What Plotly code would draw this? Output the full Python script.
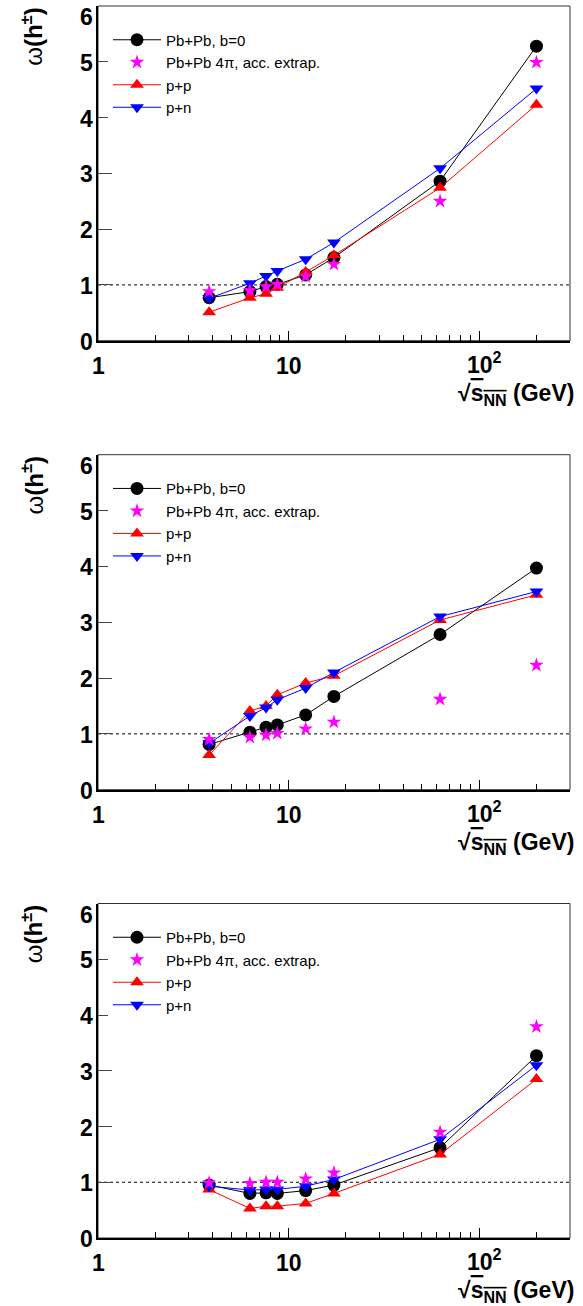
import math
import plotly.graph_objects as go

# ---------------- data ----------------
energies = [3.83, 6.27, 7.62, 8.73, 12.3, 17.3, 62.4, 200.0]

# panel 1
p1_pbpb = [0.77, 0.88, 0.97, 1.01, 1.18, 1.49, 2.86, 5.28]
p1_star = [0.88, 0.90, 0.97, 1.01, 1.15, 1.37, 2.50, 4.99]
p1_pp = [0.51, 0.77, 0.84, 0.95, 1.23, 1.53, 2.74, 4.23]
p1_pn = [0.76, 1.03, 1.16, 1.25, 1.46, 1.76, 3.09, 4.52]

# panel 2
p2_pbpb = [0.81, 1.03, 1.12, 1.16, 1.34, 1.67, 2.78, 3.97]
p2_star = [0.90, 0.94, 0.98, 1.01, 1.09, 1.21, 1.62, 2.23]
p2_pp = [0.62, 1.41, 1.50, 1.70, 1.91, 2.04, 3.04, 3.49]
p2_pn = [0.83, 1.32, 1.47, 1.61, 1.82, 2.10, 3.10, 3.55]

# panel 3
p3_pbpb = [0.95, 0.80, 0.81, 0.80, 0.85, 0.95, 1.62, 3.27]
p3_star = [0.99, 0.98, 1.00, 1.00, 1.06, 1.17, 1.90, 3.79]
p3_pp = [0.87, 0.53, 0.57, 0.57, 0.62, 0.80, 1.50, 2.85]
p3_pn = [0.93, 0.86, 0.87, 0.87, 0.93, 1.05, 1.77, 3.10]

panels = [
    (p1_pbpb, p1_star, p1_pp, p1_pn),
    (p2_pbpb, p2_star, p2_pp, p2_pn),
    (p3_pbpb, p3_star, p3_pp, p3_pn),
]

series_names = ["Pb+Pb, b=0", "Pb+Pb 4\u03c0, acc. extrap.", "p+p", "p+n"]
y_ticks = [0, 1, 2, 3, 4, 5, 6]
y_tick_text = ["0", "1", "2", "3", "4", "5", "6"]
x_major = [1, 10, 100]
x_major_text = ["1", "10", "10<sup>2</sup>"]
x_minor = [2, 3, 4, 5, 6, 7, 8, 9, 20, 30, 40, 50, 60, 70, 80, 90, 200, 300]
poisson_ref = 1.0
x_lo, x_hi = 1, 300
y_lo, y_hi = 0, 6

# ---------------- figure ----------------
W, H = 583, 1306
ML, MR, MT, MB = 98, 13, 6, 68
plot_w = W - ML - MR
plot_h = H - MT - MB
panel_px = [(6.0, 340.7), (454.7, 789.7), (903.5, 1238.0)]  # top, bottom pixel


def ydom(top, bot):
    return [max(0.0, (H - MB - bot) / plot_h), min(1.0, (H - MB - top) / plot_h)]


FONT = "Liberation Sans"
fig = go.Figure()
layout = dict(
    template="none",
    width=W, height=H,
    margin=dict(l=ML, r=MR, t=MT, b=MB, autoexpand=False),
    paper_bgcolor="white", plot_bgcolor="white",
    font=dict(family=FONT, color="black"),
    showlegend=True, hovermode=False,
    shapes=[], annotations=[],
)

for i, (pbpb, star, pp, pn) in enumerate(panels):
    k = "" if i == 0 else str(i + 1)
    xa, ya = "x" + k, "y" + k
    leg = "legend" + k
    common = dict(x=energies, xaxis=xa, yaxis=ya, legend=leg)
    fig.add_trace(go.Scatter(y=pbpb, name=series_names[0], mode="lines+markers",
                             line=dict(color="black", width=1),
                             marker=dict(symbol="circle", size=13, color="black"),
                             legendrank=1, **common))
    fig.add_trace(go.Scatter(y=pp, name=series_names[2], mode="lines+markers",
                             line=dict(color="#ff0000", width=1),
                             marker=dict(symbol="triangle-up", size=12, color="#ff0000"),
                             legendrank=3, **common))
    fig.add_trace(go.Scatter(y=pn, name=series_names[3], mode="lines+markers",
                             line=dict(color="#0000ff", width=1),
                             marker=dict(symbol="triangle-down", size=12, color="#0000ff"),
                             legendrank=4, **common))
    fig.add_trace(go.Scatter(y=star, name=series_names[1], mode="markers",
                             marker=dict(symbol="star", size=11, color="#ff00ff",
                                         line=dict(width=0)),
                             legendrank=2, **common))

    top, bot = panel_px[i]
    layout["xaxis" + k] = dict(
        type="log", range=[math.log10(x_lo), math.log10(x_hi)], anchor=ya,
        automargin=False, showticklabels=False,
        showgrid=False, zeroline=False, showline=True, linecolor="black", linewidth=2,
        ticks="inside", ticklen=10, tickwidth=1, tickcolor="black",
        tickmode="array", tickvals=x_major,
        minor=dict(ticks="inside", ticklen=6, tickwidth=1, tickcolor="black",
                   tickmode="array", tickvals=x_minor, showgrid=False),
    )
    layout["yaxis" + k] = dict(
        range=[y_lo, y_hi], domain=ydom(top, bot), anchor=xa,
        automargin=False, showticklabels=False,
        showgrid=False, zeroline=False, showline=True, linecolor="black", linewidth=2,
        ticks="inside", ticklen=14, tickwidth=1, tickcolor="#444444",
        tickmode="array", tickvals=y_ticks,
    )
    # x tick labels, placed at the tick values on the log axis
    for v, t in zip(x_major, x_major_text):
        has_sup = "sup" in t
        layout["annotations"].append(dict(
            text="<b>" + t + "</b>", xref=xa, yref=ya + " domain",
            x=math.log10(v), y=0, xanchor="center", yanchor="middle",
            yshift=(-22 if has_sup else -25), xshift=(5 if has_sup else 0),
            showarrow=False, font=dict(family=FONT, size=23, color="black")))
    # y tick labels (top one kept inside the canvas, as in the original)
    for v, t in zip(y_ticks, y_tick_text):
        at_top = (v == y_hi)
        layout["annotations"].append(dict(
            text="<b>" + t + "</b>", xref=xa + " domain", yref=ya,
            x=0, y=v, xanchor="right", yanchor=("top" if at_top else "middle"),
            xshift=-3, yshift=(4 if at_top else -1),
            showarrow=False, font=dict(family=FONT, size=23, color="black")))
    # frame (top / right)
    layout["shapes"].append(dict(type="rect", xref=xa + " domain", yref=ya + " domain",
                                 x0=0, x1=1, y0=0, y1=1, line=dict(color="#333333", width=1),
                                 layer="below"))
    # reference line
    layout["shapes"].append(dict(type="line", xref=xa + " domain", yref=ya,
                                 x0=0, x1=1, y0=poisson_ref, y1=poisson_ref,
                                 line=dict(color="black", width=1, dash="3px,3px"),
                                 layer="below"))
    # axis titles
    layout["annotations"].append(dict(
        text="\u03c9<b>(h<sup>\u00b1</sup>)</b>", textangle=-90,
        xref=xa + " domain", yref=ya + " domain",
        x=(32 - ML) / plot_w, y=1.002, xanchor="center", yanchor="top",
        showarrow=False, font=dict(family=FONT, size=24, color="black")))
    layout["annotations"].append(dict(
        text="<b>\u221a<span style='text-decoration:overline'>s<sub>NN</sub></span> (GeV)</b>",
        xref=xa + " domain", yref=ya + " domain",
        x=(576 - ML) / plot_w, y=-37 / (bot - top), xanchor="right", yanchor="top",
        showarrow=False, font=dict(family=FONT, size=23, color="black")))
    # legend
    leg_y_px = top + 17.5
    layout[leg] = dict(
        x=(108 - ML) / plot_w, xanchor="left",
        y=(H - MB - leg_y_px) / plot_h, yanchor="top", yref="paper",
        bgcolor="white", borderwidth=0,
        font=dict(family=FONT, size=15, color="black"),
        itemwidth=48, tracegroupgap=0, traceorder="normal",
    )

fig.update_layout(**layout)
fig.write_html("out.html", config={"displayModeBar": False, "staticPlot": True},
               post_script="document.body.style.margin='0px';")
